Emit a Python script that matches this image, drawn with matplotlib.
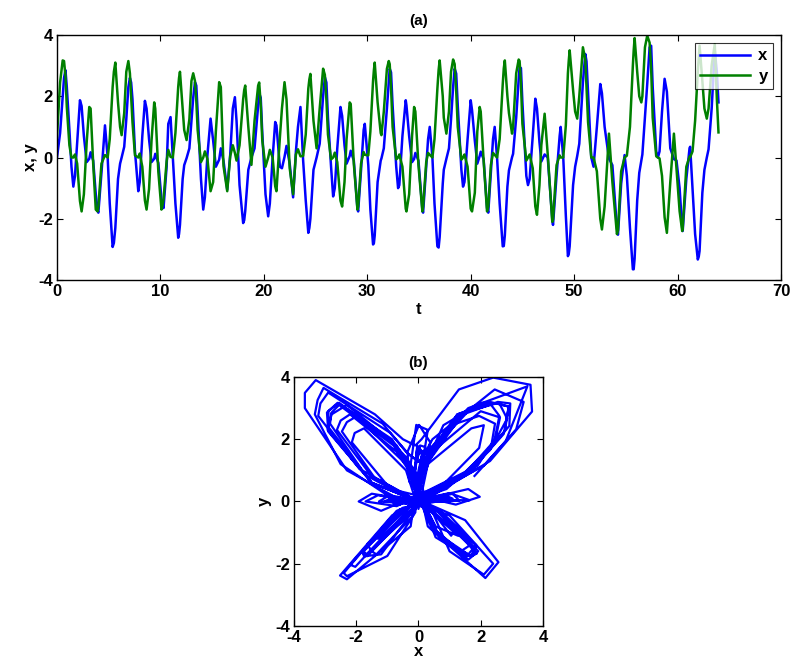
import matplotlib
matplotlib.use("Agg")
import matplotlib.pyplot as plt

plt.rcParams['font.family'] = ['Liberation Sans', 'DejaVu Sans']
plt.rcParams['font.weight'] = 'bold'
plt.rcParams['axes.unicode_minus'] = False

# values: time, x(t), y(t)
t_vals = [0.0, 0.3, 0.55, 0.68, 0.82, 0.95, 1.2, 1.4, 1.58, 1.74, 1.95, 2.22, 2.38, 2.6, 2.87,
          3.12, 3.25, 3.5, 3.75, 3.93, 4.0, 4.3, 4.64, 4.9, 5.1, 5.38, 5.5, 5.64, 5.9, 6.1, 6.25,
          6.5, 6.7, 6.9, 7.05, 7.17, 7.3, 7.54, 7.86, 8.0, 8.25, 8.5, 8.66, 8.9, 9.14, 9.4,
          9.5, 9.8, 10.1, 10.18, 10.3, 10.6, 10.76, 10.98, 11.2, 11.45, 11.72, 11.8, 11.89, 12.15, 12.3, 12.53,
          12.8, 13.0, 13.17, 13.34, 13.47, 13.6, 13.92, 14.14, 14.3, 14.55, 14.85, 15.1, 15.36, 15.68,
          15.84, 16.1, 16.46, 16.75, 17.0, 17.2, 17.36, 17.65, 18.0, 18.1, 18.2, 18.5, 18.8,
          19.1, 19.45, 19.55, 19.7, 19.85, 20.16, 20.42, 20.58, 20.85, 21.1, 21.22, 21.55, 21.75, 22.0,
          22.19, 22.5, 22.83, 23.1, 23.3, 23.54, 23.8, 24.05, 24.3, 24.4, 24.5, 24.8, 25.1,
          25.4, 25.73, 25.9, 26.05, 26.2, 26.5, 26.7, 26.86, 27.1, 27.41, 27.57, 27.8, 28.0, 28.3, 28.4,
          28.7, 29.05, 29.12, 29.4, 29.65, 29.76, 30.1, 30.3, 30.56, 30.64, 30.72, 31.0, 31.3, 31.37,
          31.6, 31.9, 32.08, 32.17, 32.3, 32.45, 32.8, 32.98, 33.1, 33.4, 33.72, 33.79, 34.05, 34.33, 34.53,
          34.65, 34.95, 35.33, 35.4, 35.7, 35.88, 36.04, 36.3, 36.5, 36.78, 36.9, 37.0, 37.3, 37.4, 37.65,
          37.9, 38.1, 38.3, 38.45, 38.6, 38.75, 39.1, 39.26, 39.4, 39.7, 40.0, 40.13, 40.4, 40.64, 40.87,
          40.97, 41.25, 41.58, 41.7, 41.95, 42.16, 42.32, 42.55, 42.8, 43.1, 43.2, 43.3, 43.55, 43.7, 44.0,
          44.1, 44.4, 44.64, 44.73, 44.86, 45.0, 45.38, 45.54, 45.7, 46.0, 46.25, 46.41, 46.65, 46.83,
          47.15, 47.45, 47.89, 47.96, 48.3, 48.6, 48.7, 48.95, 49.2, 49.4, 49.48, 49.57, 49.9, 50.1,
          50.3, 50.5, 50.85, 51.08, 51.2, 51.35, 51.66, 51.88, 52.2, 52.53, 52.69, 52.95, 53.37,
          53.7, 54.14, 54.24, 54.55, 54.88, 55.1, 55.4, 55.68, 55.76, 55.85, 56.1, 56.3, 56.5,
          56.6, 56.85, 57.07, 57.3, 57.45, 57.6, 57.94, 58.1, 58.26, 58.5, 58.75, 58.97, 59.3, 59.65,
          59.9, 60.2, 60.45, 60.5, 60.85, 61.16, 61.22, 61.45, 61.7, 61.96, 62.05, 62.13, 62.4, 62.6, 62.83,
          63.0, 63.3, 63.6, 63.8, 63.96]
x_vals = [0.0, 0.8, 2.0, 2.6, 2.85, 2.3, 0.9, -0.3, -0.95, -0.6, 0.5, 1.87, 1.68, 0.7, -0.15,
          -0.04, 0.17, -0.1, -1.2, -1.75, -1.8, -0.5, 1.05, 0.0, -1.5, -2.92, -2.79, -2.3, -0.7, -0.2, 0.0,
          0.35, 1.25, 2.3, 2.6, 2.45, 1.9, 0.2, -1.1, -0.8, 0.7, 1.85, 1.6, 0.6, -0.15, -0.04,
          0.12, -0.18, -1.35, -1.5, -1.65, -0.3, 1.1, 1.32, 0.0, -1.5, -2.62, -2.5, -2.2, -0.7, -0.25, -0.02,
          0.3, 1.2, 1.95, 2.46, 2.35, 1.5, -0.7, -1.7, -1.3, 0.1, 1.27, 0.55, -0.3, -0.07,
          0.3, -0.11, -1.05, 0.1, 1.6, 1.97, 1.2, -0.9, -2.14, -2.05, -1.75, -0.4, 0.0,
          0.3, 1.7, 2.1, 1.95, 0.8, -1.2, -1.92, -1.5, 0.0, 1.16, 1.05, -0.3, -0.35, 0.02,
          0.38, -0.2, -1.3, 0.2, 1.0, 1.65, -0.1, -1.4, -2.46, -2.3, -2.0, -0.4, 0.0,
          0.45, 2.0, 2.62, 2.45, 1.3, -0.3, -1.27, -1.0, 0.3, 1.65, 1.36, 0.4, -0.2, 0.05, 0.22,
          -0.1, -1.67, -1.76, -0.4, 0.9, 1.1, -0.25, -1.7, -2.84, -2.8, -2.55, -0.8, -0.1, -0.03,
          0.3, 1.6, 2.5, 2.9, 2.78, 1.7, -0.3, -1.0, -0.9, 0.7, 1.87, 1.7, 0.7, -0.15, -0.05,
          0.15, -0.1, -1.72, -1.8, -0.3, 0.6, 1.0, 0.0, -1.5, -2.9, -2.94, -2.6, -0.85, -0.4, -0.04,
          0.3, 1.25, 2.3, 2.9, 2.74, 1.7, -0.4, -0.95, -0.8, 0.6, 1.87, 1.55, 0.55, -0.2, 0.05,
          0.19, -0.05, -1.65, -1.8, -0.5, 0.6, 1.0, 0.0, -1.5, -2.9, -2.89, -2.55, -0.95, -0.42, 0.01,
          0.12, 1.3, 2.55, 2.95, 2.92, 1.8, -0.6, -0.9, -0.7, 0.7, 1.92, 1.6, 0.5, -0.13,
          0.1, 0.0, -2.03, -2.2, -0.6, 0.7, 1.0, 0.0, -1.9, -3.22, -3.15, -2.9, -0.9, -0.3,
          0.05, 0.45, 2.45, 3.38, 3.14, 2.1, 0.0, -0.3, 1.0, 2.4, 2.1, 1.0, -0.03,
          -0.25, -2.3, -2.52, -0.85, 0.08, -0.6, -2.3, -3.65, -3.65, -3.3, -1.4, -0.5, -0.1,
          0.1, 1.3, 2.4, 3.6, 3.65, 2.3, 0.2, 0.0, 0.2, 1.5, 2.57, 2.15, 0.3, -0.05,
          -0.1, -1.0, -2.3, -2.4, -0.7, 0.3, 0.35, -1.0, -2.5, -3.33, -3.24, -3.05, -1.15, -0.4, 0.0,
          0.27, 1.6, 3.5, 2.8, 1.8]
y_vals = [0.68, 2.45, 3.17, 3.15, 2.66, 1.65, 0.4, 0.0, 0.0, 0.1, -0.2, -1.42, -1.76, -1.2, 0.5,
          1.65, 1.6, -0.2, -1.7, -1.76, -1.6, -0.2, 0.08, 0.0, 0.6, 2.3, 2.8, 3.1, 1.8, 1.0, 0.73,
          1.45, 2.8, 3.15, 2.75, 2.0, 1.15, 0.07, 0.0, 0.13, -0.3, -1.4, -1.7, -1.03, 0.55, 1.8,
          1.6, -0.47, -1.7, -1.6, -1.37, -0.12, 0.25, 0.02, 0.0, 0.8, 2.3, 2.6, 2.8, 1.6, 0.9, 0.57,
          1.25, 2.5, 2.75, 2.5, 1.85, 0.9, -0.15, 0.0, 0.2, -0.05, -1.1, -0.8, 0.85, 2.46,
          2.3, -0.28, -1.1, 0.05, 0.4, 0.15, -0.1, 0.4, 1.9, 2.2, 2.35, 1.0, -0.24,
          1.2, 2.35, 2.45, 1.72, 0.55, -0.3, 0.0, 0.25, 0.0, -0.94, -1.1, 0.65, 1.6, 2.46,
          1.9, -0.35, -1.2, 0.1, 0.27, 0.04, 0.05, 0.75, 2.25, 2.55, 2.73, 1.2, 0.3,
          1.6, 2.9, 2.7, 1.88, 0.75, -0.06, 0.0, 0.16, -0.15, -1.41, -1.6, -0.8, 0.6, 1.8, 1.75,
          -0.2, -1.7, -1.6, -0.2, 0.18, 0.09, 0.07, 0.85, 2.5, 2.85, 3.1, 1.8, 0.8, 0.73,
          1.5, 2.9, 3.15, 3.05, 2.28, 1.0, -0.06, 0.0, 0.1, -0.3, -1.67, -1.76, -1.2, 0.7, 1.65,
          1.5, -0.25, -1.76, -1.6, -0.15, 0.15, 0.09, 0.0, 0.6, 2.25, 2.86, 3.17, 2.0, 1.3, 0.78,
          1.5, 2.8, 3.2, 3.05, 2.17, 1.0, -0.07, 0.0, 0.1, -0.3, -1.67, -1.76, -1.15, 0.85, 1.65,
          1.5, -0.1, -1.76, -1.6, -0.25, 0.15, 0.09, 0.0, 0.6, 2.4, 2.91, 3.17, 2.0, 1.45, 0.78,
          1.0, 2.75, 3.2, 3.15, 2.43, 1.1, -0.1, 0.0, 0.1, -0.35, -1.6, -1.87, -0.9, 0.4,
          1.43, 0.1, -2.1, -2.03, -0.25, 0.07, 0.0, 0.0, 1.05, 2.75, 3.15, 3.5, 2.2, 1.5,
          1.27, 2.0, 3.6, 3.2, 2.32, 1.15, 0.0, 0.0, -0.45, -2.0, -2.35, -1.6, 0.78,
          -0.8, -2.5, -2.38, -0.45, 0.0, 0.06, 1.0, 3.0, 3.49, 3.9, 2.8, 2.0, 1.8,
          2.0, 3.6, 3.98, 3.75, 2.89, 1.3, 0.04, 0.0, -0.03, -0.6, -1.95, -2.46, -0.8, 0.78,
          -0.35, -1.75, -2.4, -2.3, -0.3, 0.03, 0.01, 0.2, 1.2, 2.8, 3.26, 3.65, 2.5, 1.6, 1.27,
          1.6, 3.0, 3.7, 1.93, 0.82]

fig = plt.figure(figsize=(7.96, 6.72), dpi=100)

# (a) time series
ax1 = fig.add_axes([0.0716, 0.5833, 0.9095, 0.3646])
ax1.plot(t_vals, x_vals, color='#0000ff', lw=1.8, label='x')
ax1.plot(t_vals, y_vals, color='#008000', lw=1.8, label='y')
ax1.set_xlim(0, 70)
ax1.set_ylim(-4, 4)
ax1.set_xticks(range(0, 71, 10))
ax1.set_yticks([-4, -2, 0, 2, 4])
ax1.set_xlabel('t', fontsize=12, fontweight='bold', labelpad=2)
ax1.set_ylabel('x, y', fontsize=12, fontweight='bold', labelpad=0)
ax1.set_title('(a)', fontsize=11, fontweight='bold', pad=7)
leg = ax1.legend(loc='upper right', fontsize=12, frameon=True, fancybox=False,
                 edgecolor='black', handlelength=3.0, borderaxespad=0.5,
                 borderpad=0.3, labelspacing=0.35, handletextpad=0.5)
leg.get_frame().set_linewidth(0.8)
for txt in leg.get_texts():
    txt.set_fontweight('bold')

# (b) phase portrait
ax2 = fig.add_axes([0.3693, 0.0685, 0.3128, 0.3705])
ax2.plot(x_vals, y_vals, color='#0000ff', lw=1.6)
ax2.set_xlim(-4, 4)
ax2.set_ylim(-4, 4)
ax2.set_xticks([-4, -2, 0, 2, 4])
ax2.set_yticks([-4, -2, 0, 2, 4])
ax2.set_xlabel('x', fontsize=12, fontweight='bold', labelpad=-1)
ax2.set_ylabel('y', fontsize=12, fontweight='bold', labelpad=2)
ax2.set_title('(b)', fontsize=11, fontweight='bold', pad=7)

for ax in (ax1, ax2):
    ax.tick_params(direction='in', top=True, right=True, labelsize=12, length=4, width=0.8, pad=3)
    for lab in ax.get_xticklabels() + ax.get_yticklabels():
        lab.set_fontweight('bold')
    for sp in ax.spines.values():
        sp.set_linewidth(1.0)

fig.savefig('out.png', dpi=100)
